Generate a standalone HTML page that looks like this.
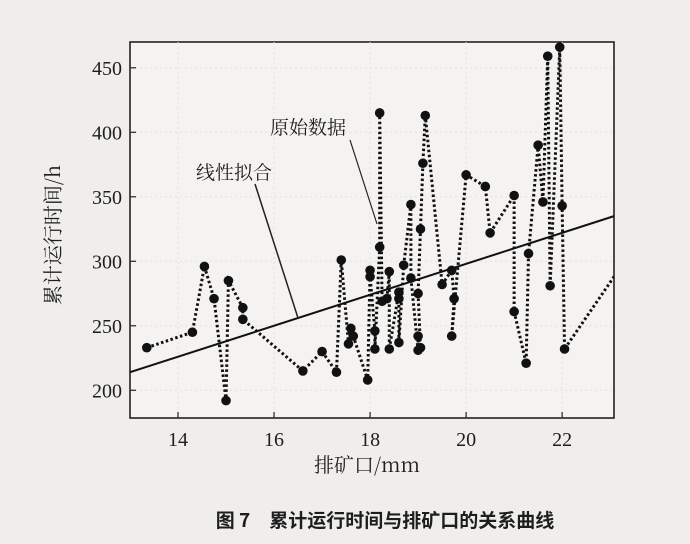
<!DOCTYPE html>
<html><head><meta charset="utf-8"><style>
body{margin:0;width:690px;height:544px;background:#efeeeb;overflow:hidden}
svg{display:block}
text{font-family:"Liberation Serif","Noto Serif CJK SC",serif;fill:#1e1e1e}
</style></head><body>
<svg id="chart" width="690" height="544" xmlns="http://www.w3.org/2000/svg">
<rect x="130" y="42" width="484" height="376" fill="#f4f3f1" stroke="#222" stroke-width="1.6"/>
<g id="grid"></g>
<g id="axes"></g>
<g id="marks"></g>
<text transform="translate(60,235) rotate(-90)" text-anchor="middle" font-size="20" style="font-family:'Noto Serif CJK SC',serif">累计运行时间/h</text>
<text x="367" y="472" text-anchor="middle" font-size="20" style="font-family:'Noto Serif CJK SC',serif">排矿口/mm</text>
<text x="385" y="527" text-anchor="middle" font-size="19" font-weight="bold" style="font-family:'Noto Sans CJK SC',sans-serif">图 7　累计运行时间与排矿口的关系曲线</text>
<text x="270" y="134" font-size="19" style="font-family:'Noto Serif CJK SC',serif">原始数据</text>
<line x1="350" y1="140" x2="377" y2="224" stroke="#222" stroke-width="1.2"/>
<text x="196" y="179" font-size="19" style="font-family:'Noto Serif CJK SC',serif">线性拟合</text>
<line x1="255" y1="184" x2="298" y2="318" stroke="#222" stroke-width="1.5"/>
</svg>
<script>
const xVals=[13.35,14.3,14.55,14.75,15.0,15.05,15.35,15.35,16.6,17.0,17.3,17.4,17.55,17.6,17.65,17.95,18.0,18.0,18.1,18.1,18.2,18.2,18.25,18.35,18.4,18.4,18.6,18.6,18.6,18.7,18.85,18.85,19.0,19.0,19.05,19.0,19.05,19.1,19.15,19.5,19.7,19.75,19.7,20.0,20.4,20.5,21.0,21.0,21.25,21.3,21.5,21.6,21.7,21.75,21.95,22.0,22.05,23.3];
const yVals=[233,245,296,271,192,285,264,255,215,230,214,301,236,248,242,208,293,288,246,232,311,415,269,271,292,232,276,271,237,297,344,287,231,242,233,275,325,376,413,282,293,271,242,367,358,322,351,261,221,306,390,346,459,281,466,343,232,300];
const xTicks=[14,16,18,20,22];
const yTicks=[200,250,300,350,400,450];
const fitX=[13.0,23.08];
const fitY=[214,335];
const X0=130,X1=614,Y0=418,Y1=42,xMin=13.0,xMax=23.08,yMin=178.5,yMax=470;
const sx=v=>X0+(v-xMin)/(xMax-xMin)*(X1-X0);
const sy=v=>Y0-(v-yMin)/(yMax-yMin)*(Y0-Y1);
const NS="http://www.w3.org/2000/svg";
function mk(t,a,p){const e=document.createElementNS(NS,t);for(const k in a)e.setAttribute(k,a[k]);p.appendChild(e);return e;}
const grid=document.getElementById('grid'),axes=document.getElementById('axes'),marks=document.getElementById('marks');
xTicks.forEach(v=>{
 const g=mk('line',{x1:sx(v),x2:sx(v),y1:Y1,y2:Y0,stroke:'#e2e1dd','stroke-width':1,'stroke-dasharray':'2 3'},grid);
 
 
 const t=mk('line',{x1:sx(v),x2:sx(v),y1:Y0,y2:Y0-6,stroke:'#222','stroke-width':1.2},axes);
 
 
 const l=mk('text',{x:sx(v),y:Y0+28,'text-anchor':'middle','font-size':20},axes);
 l.textContent=v;
 
 
});
yTicks.forEach(v=>{
 const g=mk('line',{x1:X0,x2:X1,y1:sy(v),y2:sy(v),stroke:'#e2e1dd','stroke-width':1,'stroke-dasharray':'2 3'},grid);
 
 
 const t=mk('line',{x1:X0,x2:X0+6,y1:sy(v),y2:sy(v),stroke:'#222','stroke-width':1.2},axes);
 
 
 const l=mk('text',{x:X0-8,y:sy(v)+7,'text-anchor':'end','font-size':20},axes);
 l.textContent=v;
 
 
});
const cp=mk('clipPath',{id:'clip'},marks);
mk('rect',{x:X0,y:Y1,width:X1-X0,height:Y0-Y1},cp);
const fit=mk('line',{x1:sx(fitX[0]),y1:sy(fitY[0]),x2:sx(fitX[1]),y2:sy(fitY[1]),stroke:'#111','stroke-width':2},marks);


const pts=xVals.map((x,i)=>sx(x)+','+sy(yVals[i])).join(' ');
const pl=mk('polyline',{points:pts,fill:'none',stroke:'#111','stroke-width':3,'stroke-dasharray':'2.5 2.5','clip-path':'url(#clip)'},marks);


xVals.forEach((x,i)=>{
 if(x>xMax)return;
 const c=mk('circle',{cx:sx(x),cy:sy(yVals[i]),r:4.8,fill:'#111'},marks);
 
 
});
</script>
</body></html>
